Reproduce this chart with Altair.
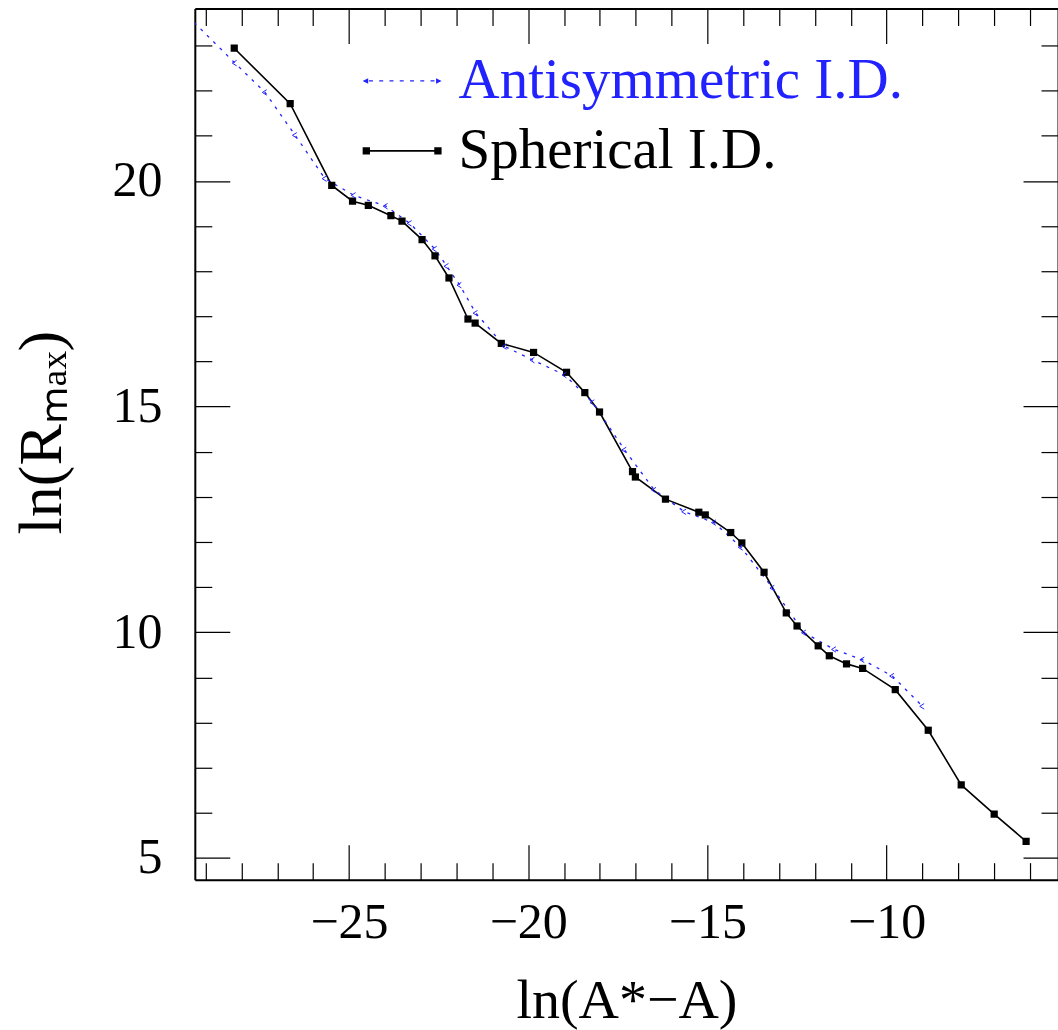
import altair as alt
import pandas as pd

# ---- data ----
SPH_X = [-28.20, -26.64, -25.48, -24.90, -24.46, -23.83, -23.52, -22.96, -22.60, -22.21,
         -21.68, -21.48, -20.75, -19.85, -18.93, -18.42, -18.01, -17.09, -17.01, -16.17,
         -15.24, -15.06, -14.35, -14.04, -13.42, -12.80, -12.50, -11.91, -11.60, -11.12,
         -10.67, -9.76, -8.84, -7.92, -7.00, -6.11]
SPH_Y = [22.94, 21.71, 19.90, 19.55, 19.46, 19.23, 19.11, 18.70, 18.34, 17.85,
         16.94, 16.85, 16.40, 16.20, 15.76, 15.31, 14.88, 13.56, 13.44, 12.95,
         12.66, 12.60, 12.21, 11.98, 11.33, 10.43, 10.14, 9.70, 9.48, 9.30,
         9.20, 8.73, 7.83, 6.62, 5.97, 5.37]

ANTI_X = [-29.85, -28.18, -27.34, -26.50, -25.67, -24.86, -23.97, -23.30, -22.60, -22.27,
          -21.91, -21.46, -20.65, -19.87, -18.98, -18.20, -17.31, -16.48, -15.64, -14.81,
          -14.06, -13.18, -12.30, -11.46, -10.67, -9.84, -9.00]
ANTI_Y = [23.93, 22.61, 21.96, 21.01, 20.05, 19.68, 19.44, 19.06, 18.49, 18.11,
          17.69, 17.07, 16.33, 16.03, 15.70, 15.09, 14.04, 13.15, 12.67, 12.43,
          11.88, 10.98, 9.99, 9.62, 9.39, 9.03, 8.36]

SERIES = ["Antisymmetric I.D.", "Spherical I.D."]
X_TICKS = list(range(-29, -5))
Y_TICKS = list(range(5, 24))
X_DOMAIN = [-29.30, -5.22]
Y_DOMAIN = [4.52, 23.82]

BLUE = "#2222ff"
FONT = "Liberation Serif"

sph = pd.DataFrame({"x": SPH_X, "y": SPH_Y})
anti = pd.DataFrame({"x": ANTI_X, "y": ANTI_Y})
leg = pd.DataFrame({"series": SERIES})

xs = alt.Scale(domain=X_DOMAIN, nice=False, zero=False)
ys = alt.Scale(domain=Y_DOMAIN, nice=False, zero=False)

TICK_X = {"expr": "datum.value % 5 == 0 ? -35 : -17"}

def axis_common(orient, labels, title, values, **kw):
    return alt.Axis(
        orient=orient, values=values, tickSize=TICK_X, tickColor="black", tickWidth=1.2,
        domain=True, domainColor="black", domainWidth=2, grid=False, labels=labels, title=title,
        labelExpr="datum.value % 5 == 0 ? datum.label : ''", labelOverlap=False,
        labelFlush=False, labelFont=FONT, labelFontSize=50, labelColor="black",
        titleFont=FONT, titleFontWeight="normal", titleColor="black",
        **kw)

x_bottom = axis_common("bottom", True, "ln(A*\u2212A)", X_TICKS, labelPadding=53,
                       titlePadding=8, titleFontSize=56)
y_left = axis_common("left", True, "ln(R\u2098\u2090\u2093)", Y_TICKS, labelPadding=68,
                     titlePadding=38, titleFontSize=62, titleY=424)
x_top = axis_common("top", False, None, X_TICKS)
y_right = axis_common("right", False, None, Y_TICKS)

black_line = alt.Chart(sph).mark_line(color="black", strokeWidth=1.6, clip=True).encode(
    x=alt.X("x:Q", scale=xs, axis=x_bottom),
    y=alt.Y("y:Q", scale=ys, axis=y_left),
)
blue_line = alt.Chart(anti).mark_line(color=BLUE, strokeWidth=1.3, strokeDash=[3, 6], clip=True).encode(
    x=alt.X("x:Q", scale=xs, axis=x_top),
    y=alt.Y("y:Q", scale=ys, axis=y_right),
)
black_pts = alt.Chart(sph).mark_point(shape="square", filled=True, size=52, color="black",
                                      opacity=1, clip=True).encode(
    x=alt.X("x:Q", scale=xs, axis=None),
    y=alt.Y("y:Q", scale=ys, axis=None),
)
blue_pts = alt.Chart(anti).mark_point(shape="M0.6,-1L-1,0L0.6,1", filled=False, size=30,
                                      color=BLUE, strokeWidth=1, opacity=1, clip=True).encode(
    x=alt.X("x:Q", scale=xs, axis=None),
    y=alt.Y("y:Q", scale=ys, axis=None),
)

# legend symbols (unit space [-1, 1])
dash_parts = []
xpos = -0.84
while xpos < 0.80:
    dash_parts.append(f"M{xpos:.3f},-0.018H{xpos + 0.10:.3f}V0.018H{xpos:.3f}Z")
    xpos += 0.26
anti_path = "M-1,0L-0.86,-0.07L-0.86,0.07Z M1,0L0.86,-0.07L0.86,0.07Z " + " ".join(dash_parts)
sph_path = "M-1,-0.093H-0.815V-0.02H0.815V-0.093H1V0.093H0.815V0.02H-0.815V0.093H-1Z"

legend_layer = alt.Chart(leg).mark_point(filled=True, opacity=1).encode(
    color=alt.Color("series:N", scale=alt.Scale(domain=SERIES, range=[BLUE, "black"]),
                    legend=alt.Legend(
                        title=None, orient="none", legendX=168, legendY=33,
                        symbolSize=6241, labelFont=FONT, labelFontSize=57, labelOffset=17,
                        labelLimit=2000, rowPadding=2, padding=0, symbolStrokeWidth=0,
                        labelColor={"expr": "datum.label == 'Spherical I.D.' ? 'black' : '%s'" % BLUE},
                    )),
    shape=alt.Shape("series:N", scale=alt.Scale(domain=SERIES, range=[anti_path, sph_path])),
).transform_filter("datum.series == 'none'")

chart = alt.layer(black_line, blue_line, black_pts, blue_pts, legend_layer).resolve_axis(
    x="independent", y="independent"
).properties(
    width=864, height=872,
    autosize=alt.AutoSizeParams(type="none"),
    padding={"left": 195, "top": 8, "right": 0, "bottom": 150},
).configure_view(stroke=None).configure(background="white")

chart.save("out.html", embed_options={"renderer": "svg", "actions": False})
